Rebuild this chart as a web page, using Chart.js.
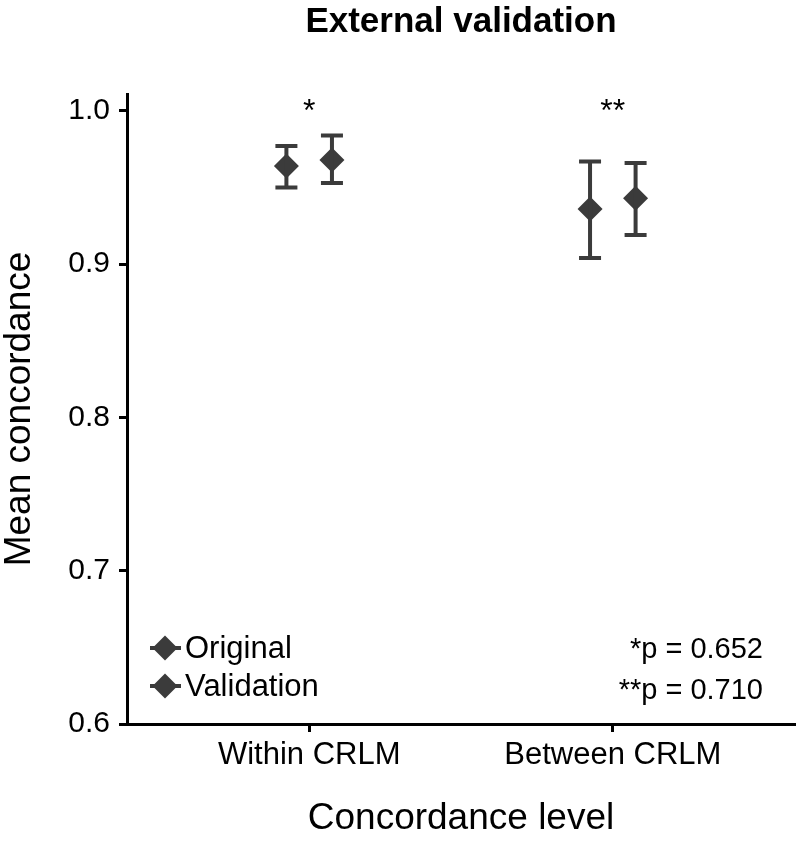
<!DOCTYPE html>
<html>
<head>
<meta charset="utf-8">
<script src="https://cdn.jsdelivr.net/npm/chart.js@4.4.1/dist/chart.umd.min.js"></script>
<style>
  html, body { margin: 0; padding: 0; background: #fff; }
  #wrap { width: 796px; height: 844px; }
</style>
</head>
<body>
<div id="wrap"><canvas id="chart"></canvas></div>
<script>
const categories = ["Within CRLM", "Between CRLM"];
const seriesNames = ["Original", "Validation"];
const originalMean = [0.964, 0.936];
const originalLow = [0.950, 0.904];
const originalHigh = [0.977, 0.967];
const validationMean = [0.968, 0.943];
const validationLow = [0.953, 0.919];
const validationHigh = [0.984, 0.966];
const significance = ["*", "**"];
const pValueLabels = ["*p = 0.652", "**p = 0.710"];
const yTicks = [0.6, 0.7, 0.8, 0.9, 1.0];

const markColor = "#3b3b3b";
const font = "'Liberation Sans', Arial, sans-serif";
const dodge = 0.075;

function points(means, shift) {
  return means.map((v, i) => ({ x: i + 1 + shift, y: v }));
}

const errorBars = {
  id: "errorBars",
  afterDatasetsDraw(chart) {
    const { ctx, scales: { x, y } } = chart;
    const sets = [
      { shift: -dodge, low: originalLow, high: originalHigh },
      { shift: dodge, low: validationLow, high: validationHigh },
    ];
    ctx.save();
    ctx.strokeStyle = markColor;
    ctx.lineWidth = 4;
    sets.forEach((s) => {
      s.low.forEach((lo, i) => {
        const px = x.getPixelForValue(i + 1 + s.shift);
        const pLo = y.getPixelForValue(lo);
        const pHi = y.getPixelForValue(s.high[i]);
        ctx.beginPath();
        ctx.moveTo(px, pLo);
        ctx.lineTo(px, pHi);
        ctx.moveTo(px - 11, pLo);
        ctx.lineTo(px + 11, pLo);
        ctx.moveTo(px - 11, pHi);
        ctx.lineTo(px + 11, pHi);
        ctx.stroke();
      });
    });
    ctx.restore();
  },
};

const annotations = {
  id: "annotations",
  afterDraw(chart) {
    const { ctx, scales: { x, y } } = chart;
    ctx.save();
    ctx.fillStyle = "#000";
    ctx.font = "32px " + font;
    ctx.textAlign = "center";
    ctx.textBaseline = "alphabetic";
    significance.forEach((s, i) => {
      ctx.fillText(s, x.getPixelForValue(i + 1), y.getPixelForValue(1.0) + 10);
    });

    // legend
    ctx.font = "31px " + font;
    ctx.textAlign = "left";
    ctx.textBaseline = "middle";
    const legendY = [648, 686];
    seriesNames.forEach((name, i) => {
      const cy = legendY[i];
      const cx = 165;
      ctx.strokeStyle = markColor;
      ctx.lineWidth = 4;
      ctx.beginPath();
      ctx.moveTo(150, cy);
      ctx.lineTo(181, cy);
      ctx.stroke();
      ctx.fillStyle = markColor;
      ctx.beginPath();
      ctx.moveTo(cx, cy - 12.5);
      ctx.lineTo(cx + 12.5, cy);
      ctx.lineTo(cx, cy + 12.5);
      ctx.lineTo(cx - 12.5, cy);
      ctx.closePath();
      ctx.fill();
      ctx.fillStyle = "#000";
      ctx.fillText(name, 185, cy + 1);
    });

    // p values
    ctx.font = "29px " + font;
    ctx.textAlign = "right";
    const pY = [650, 691];
    pValueLabels.forEach((t, i) => {
      ctx.fillText(t, 763, pY[i]);
    });
    ctx.restore();
  },
};

new Chart(document.getElementById("chart"), {
  type: "scatter",
  data: {
    datasets: [
      {
        label: seriesNames[0],
        data: points(originalMean, -dodge),
        pointStyle: "rectRot",
        pointRadius: 12.5,
        backgroundColor: markColor,
        borderColor: markColor,
        borderWidth: 0,
      },
      {
        label: seriesNames[1],
        data: points(validationMean, dodge),
        pointStyle: "rectRot",
        pointRadius: 12.5,
        backgroundColor: markColor,
        borderColor: markColor,
        borderWidth: 0,
      },
    ],
  },
  options: {
    responsive: true,
    maintainAspectRatio: false,
    animation: false,
    layout: {
      autoPadding: false,
      padding: { top: 0, right: 1, bottom: 0, left: 0 },
    },
    plugins: {
      legend: { display: false },
      tooltip: { enabled: false },
      title: {
        display: true,
        fullSize: false,
        text: "External validation",
        color: "#000",
        font: { family: font, size: 35, weight: "bold", lineHeight: 1.2 },
        padding: { top: 1, bottom: 51 },
      },
    },
    scales: {
      x: {
        type: "linear",
        min: 0.4,
        max: 2.6,
        afterBuildTicks(scale) {
          scale.ticks = categories.map((c, i) => ({ value: i + 1 }));
        },
        afterFit(scale) {
          scale.height = 120;
          scale.paddingLeft = 0;
          scale.paddingRight = 0;
        },
        border: { display: true, color: "#000", width: 3 },
        grid: {
          display: true,
          drawOnChartArea: false,
          drawTicks: true,
          tickLength: 8,
          tickWidth: 3,
          tickColor: "#000",
        },
        ticks: {
          color: "#000",
          padding: 5,
          font: { family: font, size: 31 },
          callback(value) {
            return categories[Math.round(value) - 1];
          },
        },
        title: {
          display: true,
          text: "Concordance level",
          color: "#000",
          font: { family: font, size: 37, lineHeight: 1 },
          padding: { top: 4, bottom: 7 },
        },
      },
      y: {
        min: 0.6,
        max: 1.011,
        afterBuildTicks(scale) {
          scale.ticks = yTicks.map((v) => ({ value: v }));
        },
        afterFit(scale) {
          scale.width = 127;
          scale.paddingTop = 0;
          scale.paddingBottom = 0;
        },
        border: { display: true, color: "#000", width: 3 },
        grid: {
          display: true,
          drawOnChartArea: false,
          drawTicks: true,
          tickLength: 8,
          tickWidth: 3,
          tickColor: "#000",
        },
        ticks: {
          color: "#000",
          padding: 9,
          font: { family: font, size: 30 },
          callback(value) {
            return value.toFixed(1);
          },
        },
        title: {
          display: true,
          text: "Mean concordance",
          color: "#000",
          font: { family: font, size: 37, lineHeight: 1 },
          padding: { top: 1, bottom: 4 },
        },
      },
    },
  },
  plugins: [errorBars, annotations],
});
</script>
</body>
</html>
